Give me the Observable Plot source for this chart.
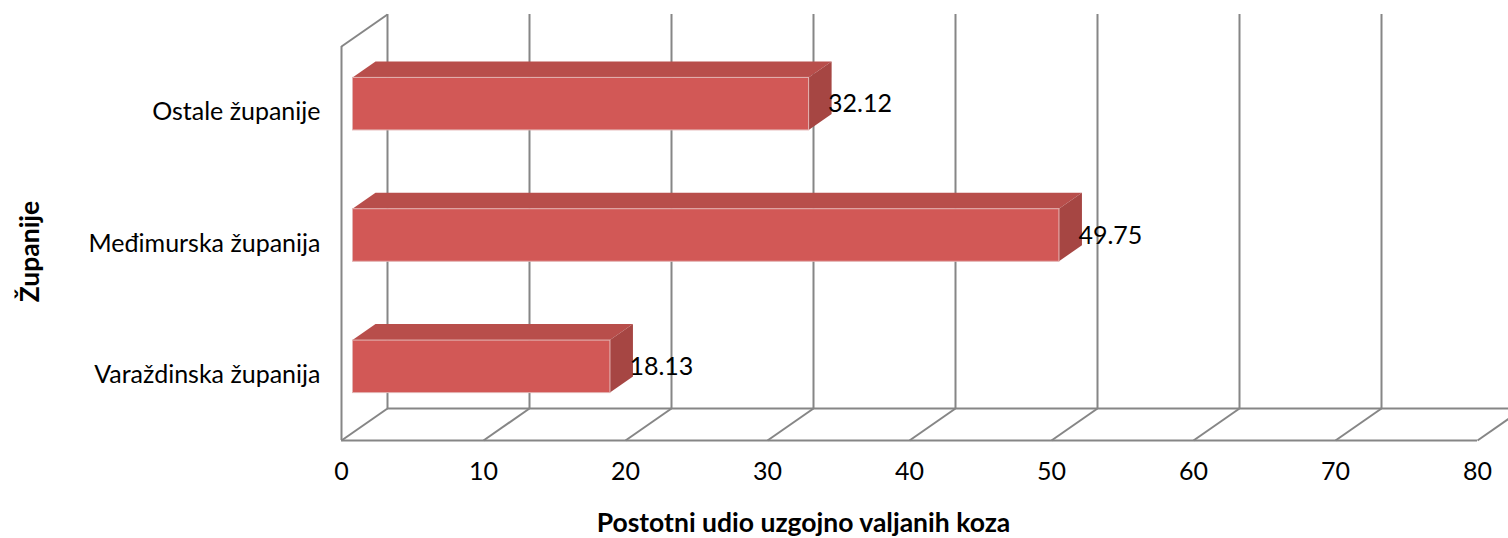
<!DOCTYPE html>
<html>
<head>
<meta charset="utf-8">
<script src="https://cdn.jsdelivr.net/npm/d3@7"></script>
<script src="https://cdn.jsdelivr.net/npm/@observablehq/plot@0.6"></script>
<style>
  html, body { margin: 0; padding: 0; background: #fff; overflow: hidden; }
  #chart { width: 1508px; height: 538px; }
</style>
</head>
<body>
<div id="chart"></div>
<script>
// ---- data ----
const categories = ["Varaždinska županija", "Međimurska županija", "Ostale županije"];
const values = [18.13, 49.75, 32.12];
const xTicks = [0, 10, 20, 30, 40, 50, 60, 70, 80];
const xTitle = "Postotni udio uzgojno valjanih koza";
const yTitle = "Županije";

// ---- layout / style constants ----
const W = 1508, H = 538;
const mL = 341, mR = 31, mT = 46, mB = 98;
const pxPerX = (W - mL - mR) / 80;
const pxPerY = (H - mT - mB) / categories.length;
const DEPTH_X = 46 / pxPerX;   // 3D depth expressed in data units
const DEPTH_Y = 32 / pxPerY;
const F0 = 0.25, F1 = 0.75;     // bar occupies this slice of the depth
const HALF = 0.2;               // half bar thickness (category units)
const GRID = "#868686";
const FRONT = "#D25856", TOP = "#B84E4B", SIDE = "#A64643";
const FS = 25, TFS = 26.5;

const rows = categories.map((c, i) => ({cat: c, pos: i + 0.5, v: values[i]}));
const topFace = rows.flatMap(d => [
  {cat: d.cat, y: d.pos + HALF + F0 * DEPTH_Y, x1: F0 * DEPTH_X, x2: d.v + F0 * DEPTH_X},
  {cat: d.cat, y: d.pos + HALF + F1 * DEPTH_Y, x1: F1 * DEPTH_X, x2: d.v + F1 * DEPTH_X}
]);
const sideFace = rows.flatMap(d => [
  {cat: d.cat, x: d.v + F0 * DEPTH_X, y1: d.pos - HALF + F0 * DEPTH_Y, y2: d.pos + HALF + F0 * DEPTH_Y},
  {cat: d.cat, x: d.v + F1 * DEPTH_X, y1: d.pos - HALF + F1 * DEPTH_Y, y2: d.pos + HALF + F1 * DEPTH_Y}
]);
const nCat = categories.length;

const chart = Plot.plot({
  width: W, height: H,
  marginLeft: mL, marginRight: mR, marginTop: mT, marginBottom: mB,
  style: {fontFamily: "Lato, 'DejaVu Sans', sans-serif", fontSize: FS + "px", color: "#000", background: "#fff", overflow: "visible"},
  x: {domain: [0, 80]},
  y: {domain: [0, nCat]},
  marks: [
    // back wall gridlines
    Plot.ruleX(xTicks, {x: d => d + DEPTH_X, y1: DEPTH_Y, y2: nCat + DEPTH_Y, stroke: GRID, strokeWidth: 2}),
    // floor: back edge, front edge and depth diagonals
    Plot.ruleY([DEPTH_Y], {x1: DEPTH_X, x2: 80 + DEPTH_X, stroke: GRID, strokeWidth: 2}),
    Plot.ruleY([0], {x1: 0, x2: 80, stroke: GRID, strokeWidth: 2}),
    Plot.link(xTicks, {x1: d => d, y1: 0, x2: d => d + DEPTH_X, y2: DEPTH_Y, stroke: GRID, strokeWidth: 2}),
    // left wall
    Plot.ruleX([0], {y1: 0, y2: nCat, stroke: GRID, strokeWidth: 2}),
    Plot.link([0], {x1: 0, y1: nCat, x2: DEPTH_X, y2: nCat + DEPTH_Y, stroke: GRID, strokeWidth: 2}),
    // bars: top, side, front faces
    Plot.areaX(topFace, {y: "y", x1: "x1", x2: "x2", z: "cat", fill: TOP}),
    Plot.areaY(sideFace, {x: "x", y1: "y1", y2: "y2", z: "cat", fill: SIDE}),
    Plot.rect(rows, {
      x1: F0 * DEPTH_X, x2: d => d.v + F0 * DEPTH_X,
      y1: d => d.pos - HALF + F0 * DEPTH_Y, y2: d => d.pos + HALF + F0 * DEPTH_Y,
      fill: FRONT, stroke: "#e3b3b2", strokeWidth: 1
    }),
    // value labels
    Plot.text(rows, {
      x: d => d.v + F0 * DEPTH_X, y: d => d.pos + F0 * DEPTH_Y,
      text: d => d.v.toFixed(2), dx: 19, textAnchor: "start", fill: "#000", fontSize: FS
    }),
    // axes
    Plot.axisX(xTicks, {tickSize: 0, tickPadding: 22, label: null, fontSize: FS, fill: "#000"}),
    Plot.axisY(rows.map(d => d.pos), {
      tickSize: 0, tickPadding: 21, label: null, fontSize: FS, fill: "#000",
      tickFormat: p => categories[Math.floor(p)]
    }),
    // axis titles
    Plot.text([xTitle], {frameAnchor: "bottom", textAnchor: "middle", lineAnchor: "middle", dx: -106, dy: 83, fontWeight: "bold", fontSize: TFS, fill: "#000"}),
    Plot.text([yTitle], {frameAnchor: "left", textAnchor: "middle", lineAnchor: "middle", dx: -311, dy: 8, rotate: -90, fontWeight: "bold", fontSize: TFS, fill: "#000"})
  ]
});
document.getElementById("chart").appendChild(chart);
</script>
</body>
</html>
